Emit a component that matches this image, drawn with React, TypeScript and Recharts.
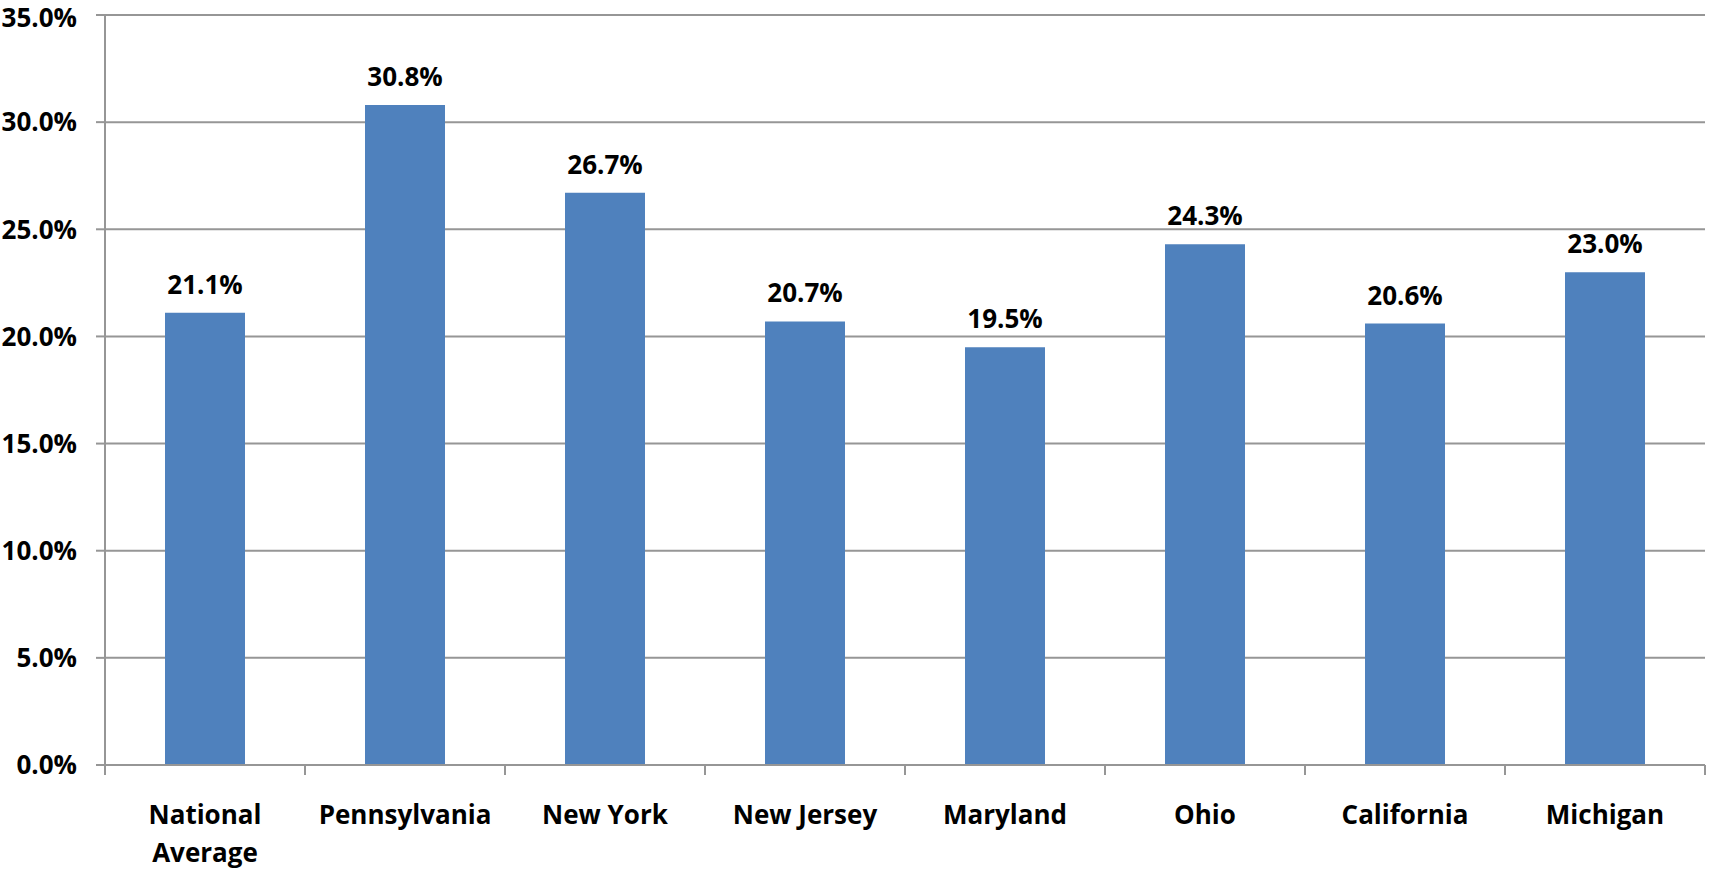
import { Bar, BarChart, CartesianGrid, LabelList, XAxis, YAxis } from "recharts";

const states = [
  "National Average",
  "Pennsylvania",
  "New York",
  "New Jersey",
  "Maryland",
  "Ohio",
  "California",
  "Michigan",
];
const rates = [21.1, 30.8, 26.7, 20.7, 19.5, 24.3, 20.6, 23.0];
const yTicks = [0, 5, 10, 15, 20, 25, 30, 35];

const data = states.map((name, i) => ({ name, rate: rates[i] }));

const W = 1709;
const H = 872;
const LEFT = 105;
const RIGHT = 4;
const PLOT_W = W - LEFT - RIGHT;
const BAND = PLOT_W / states.length;
const GRAY = "#969696";
const FONT = "'Open Sans', 'Noto Sans', sans-serif";

const pct = (v: number) => `${v.toFixed(1)}%`;

function CategoryTick(props: any) {
  const { x, y, payload, index } = props;
  const words: string[] = payload.value === "National Average" ? ["National", "Average"] : [payload.value];
  const last = index === states.length - 1;
  return (
    <g>
      <line x1={x - BAND / 2} x2={x - BAND / 2} y1={y} y2={y + 10} stroke={GRAY} strokeWidth={2} />
      {last && <line x1={x + BAND / 2} x2={x + BAND / 2} y1={y} y2={y + 10} stroke={GRAY} strokeWidth={2} />}
      <text
        x={x}
        y={y + 59}
        textAnchor="middle"
        fontFamily={FONT}
        fontWeight={700}
        fontSize={26}
        fill="#000"
      >
        {words.map((w, i) => (
          <tspan key={w} x={x} dy={i === 0 ? 0 : 38}>
            {w}
          </tspan>
        ))}
      </text>
    </g>
  );
}

export default function App() {
  return (
    <div style={{ position: "absolute", left: 0, top: 0, background: "#fff" }}>
      <BarChart
        width={W}
        height={H}
        data={data}
        margin={{ top: 15, right: RIGHT, left: 0, bottom: 0 }}
        barCategoryGap="30%"
      >
        <CartesianGrid vertical={false} stroke={GRAY} strokeWidth={2} />
        <XAxis
          dataKey="name"
          height={107}
          interval={0}
          tickSize={0}
          tickMargin={0}
          tickLine={false}
          axisLine={{ stroke: GRAY, strokeWidth: 2 }}
          tick={<CategoryTick />}
        />
        <YAxis
          width={LEFT}
          domain={[0, 35]}
          ticks={yTicks}
          tickFormatter={pct}
          tickSize={9}
          tickMargin={19}
          axisLine={{ stroke: GRAY, strokeWidth: 2 }}
          tickLine={{ stroke: GRAY, strokeWidth: 2 }}
          tick={{ fill: "#000", fontFamily: FONT, fontWeight: 700, fontSize: 26 }}
        />
        <Bar dataKey="rate" fill="#4F81BD" isAnimationActive={false}>
          <LabelList
            dataKey="rate"
            position="top"
            offset={19}
            formatter={(v: any) => pct(Number(v))}
            style={{ fill: "#000", fontFamily: FONT, fontWeight: 700, fontSize: 26 }}
          />
        </Bar>
      </BarChart>
    </div>
  );
}
